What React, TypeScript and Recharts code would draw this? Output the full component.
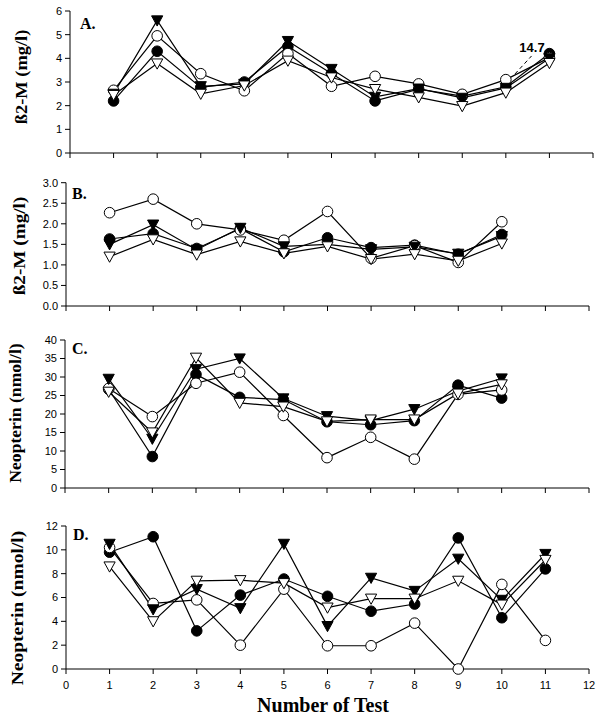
import React from 'react'
import { LineChart, Line, XAxis, YAxis, ReferenceLine, ReferenceDot } from 'recharts'

// test numbers and axis ticks
const TESTS = [1, 2, 3, 4, 5, 6, 7, 8, 9, 10, 11]
const X_TICKS = [0, 1, 2, 3, 4, 5, 6, 7, 8, 9, 10, 11, 12]

// A. ß2-M (mg/l)
const A_TICKS = [0, 1, 2, 3, 4, 5, 6]
const A_FILLED_CIRCLE = [2.2, 4.3, 2.77, 3.0, 4.5, 3.36, 2.2, 2.7, 2.4, 2.8, 4.2]
const A_OPEN_CIRCLE = [2.65, 4.95, 3.35, 2.63, 4.2, 2.82, 3.24, 2.92, 2.48, 3.1, 4.03]
const A_FILLED_TRI = [2.5, 5.6, 2.82, 2.92, 4.73, 3.55, 2.37, 2.72, 2.33, 2.75, 4.0]
const A_OPEN_TRI = [2.45, 3.78, 2.5, 2.85, 3.9, 3.19, 2.7, 2.35, 1.98, 2.55, 3.8]

// B. ß2-M (mg/l)
const B_TICKS = [0, 0.5, 1, 1.5, 2, 2.5, 3]
const B_FILLED_CIRCLE = [1.63, 1.76, 1.4, 1.88, 1.32, 1.66, 1.42, 1.48, 1.26, 1.74]
const B_OPEN_CIRCLE = [2.27, 2.6, 2.0, 1.85, 1.6, 2.3, 1.16, 1.47, 1.06, 2.05]
const B_FILLED_TRI = [1.5, 1.98, 1.37, 1.9, 1.45, 1.5, 1.38, 1.44, 1.27, 1.7]
const B_OPEN_TRI = [1.2, 1.62, 1.25, 1.57, 1.28, 1.45, 1.14, 1.26, 1.1, 1.52]

// C. Neopterin (nmol/l)
const C_TICKS = [0, 5, 10, 15, 20, 25, 30, 35, 40]
const C_FILLED_CIRCLE = [26.7, 8.5, 30.7, 24.5, 23.9, 17.9, 17.1, 18.2, 27.8, 24.3]
const C_OPEN_CIRCLE = [26.9, 19.3, 28.3, 31.3, 19.6, 8.2, 13.7, 7.8, 25.3, 26.5]
const C_FILLED_TRI = [29.5, 13.3, 32.1, 35.0, 24.2, 19.4, 18.2, 21.3, 26.2, 29.6]
const C_OPEN_TRI = [26.0, 15.0, 35.2, 23.0, 22.0, 18.0, 18.5, 18.5, 25.5, 28.0]

// D. Neopterin (nmol/l)
const D_TICKS = [0, 2, 4, 6, 8, 10, 12]
const D_FILLED_CIRCLE = [9.8, 11.1, 3.2, 6.2, 7.55, 6.1, 4.85, 5.45, 11.0, 4.3, 8.4]
const D_OPEN_CIRCLE = [10.2, 5.5, 5.8, 2.0, 6.7, 1.95, 1.95, 3.85, 0, 7.1, 2.4]
const D_FILLED_TRI = [10.5, 5.0, 6.7, 5.1, 10.5, 3.6, 7.65, 6.55, 9.25, 5.8, 9.65]
const D_OPEN_TRI = [8.6, 4.0, 7.4, 7.45, 7.2, 5.15, 5.9, 5.9, 7.4, 5.4, 9.15]

type Row = { x: number; fc: number; oc: number; ft: number; ot: number }

function buildRows(fc: number[], oc: number[], ft: number[], ot: number[]): Row[] {
  return fc.map((v, i) => ({ x: TESTS[i], fc: v, oc: oc[i], ft: ft[i], ot: ot[i] }))
}

const SERIF = '"Liberation Serif", "Times New Roman", serif'
const SANS = '"Liberation Sans", Arial, sans-serif'

function circleDot(fill: string) {
  return (p: any) => {
    if (p.cx == null || p.cy == null) return <g key={p.index} />
    return <circle key={p.index} cx={p.cx} cy={p.cy} r={5.3} fill={fill} stroke="#000" strokeWidth={1} />
  }
}

function triDot(fill: string) {
  return (p: any) => {
    if (p.cx == null || p.cy == null) return <g key={p.index} />
    const { cx, cy } = p
    const pts = `${cx - 5.6},${cy - 4.6} ${cx + 5.6},${cy - 4.6} ${cx},${cy + 5.6}`
    return <polygon key={p.index} points={pts} fill={fill} stroke="#000" strokeWidth={1} />
  }
}

const SERIES = [
  { key: 'fc', dot: circleDot('#000') },
  { key: 'oc', dot: circleDot('#fff') },
  { key: 'ft', dot: triDot('#000') },
  { key: 'ot', dot: triDot('#fff') },
]

const NoTick = () => <g />

interface PanelProps {
  top: number
  height: number
  left: number
  right: number
  plotTop: number
  xAxisHeight: number
  rows: Row[]
  yTicks: number[]
  yFormat?: (v: number) => string
  showXLabels?: boolean
  children?: React.ReactNode
}

function Panel({ top, height, left, right, plotTop, xAxisHeight, rows, yTicks, yFormat, showXLabels, children }: PanelProps) {
  return (
    <div style={{ position: 'absolute', top, left: 0 }}>
      <LineChart width={608} height={height} data={rows} margin={{ top: plotTop, right: 608 - right, bottom: 0, left: 0 }}>
        <XAxis
          type="number"
          dataKey="x"
          domain={[0, 12]}
          ticks={X_TICKS}
          interval={0}
          height={xAxisHeight}
          axisLine={{ stroke: '#000' }}
          tickLine={{ stroke: '#000' }}
          tickSize={5}
          tickMargin={7}
          tick={showXLabels ? { fontSize: 11, fill: '#000', fontFamily: SANS } : <NoTick />}
        />
        <YAxis
          type="number"
          domain={[yTicks[0], yTicks[yTicks.length - 1]]}
          ticks={yTicks}
          interval={0}
          width={left}
          axisLine={{ stroke: '#000' }}
          tickLine={{ stroke: '#000' }}
          tickSize={5}
          tickMargin={3}
          tickFormatter={yFormat}
          tick={{ fontSize: 11, fill: '#000', fontFamily: SANS }}
        />
        {SERIES.map((s) => (
          <Line
            key={s.key}
            type="linear"
            dataKey={s.key}
            stroke="#000"
            strokeWidth={1.2}
            dot={s.dot}
            activeDot={false}
            isAnimationActive={false}
          />
        ))}
        {children}
      </LineChart>
    </div>
  )
}

// rotated axis title; stretch lengthens the text along the axis
function VLabel({ text, x, y, stretch }: { text: string; x: number; y: number; stretch: number }) {
  return (
    <div
      style={{
        position: 'absolute',
        left: x,
        top: y,
        transform: `translate(-50%, -50%) rotate(-90deg) scaleX(${stretch})`,
        whiteSpace: 'nowrap',
        fontFamily: SERIF,
        fontWeight: 'bold',
        fontSize: 16,
        lineHeight: 1,
      }}
    >
      {text}
    </div>
  )
}

function PanelLetter({ text, x, y }: { text: string; x: number; y: number }) {
  return (
    <div style={{ position: 'absolute', left: x, top: y, fontFamily: SERIF, fontWeight: 'bold', fontSize: 16, lineHeight: 1 }}>
      {text}
    </div>
  )
}

export default function App() {
  const rowsA = buildRows(A_FILLED_CIRCLE, A_OPEN_CIRCLE, A_FILLED_TRI, A_OPEN_TRI)
  const rowsB = buildRows(B_FILLED_CIRCLE, B_OPEN_CIRCLE, B_FILLED_TRI, B_OPEN_TRI)
  const rowsC = buildRows(C_FILLED_CIRCLE, C_OPEN_CIRCLE, C_FILLED_TRI, C_OPEN_TRI)
  const rowsD = buildRows(D_FILLED_CIRCLE, D_OPEN_CIRCLE, D_FILLED_TRI, D_OPEN_TRI)

  return (
    <div style={{ position: 'absolute', top: 0, left: 0, width: 608, height: 720, background: '#fff', overflow: 'hidden' }}>
      <Panel top={0} height={180} left={70} right={593} plotTop={11} xAxisHeight={27} rows={rowsA} yTicks={A_TICKS}>
        <ReferenceLine
          segment={[{ x: 10.21, y: 3.34 }, { x: 10.59, y: 4.1 }]}
          stroke="#000"
          strokeWidth={1}
          strokeDasharray="4 3"
        />
        <ReferenceDot
          x={10.6}
          y={4.45}
          r={0}
          stroke="none"
          label={{ value: '14.7', position: 'center', fontSize: 13, fontWeight: 'bold', fill: '#000', fontFamily: SANS }}
        />
      </Panel>
      <Panel top={170} height={161} left={66} right={589} plotTop={12.7} xAxisHeight={25} rows={rowsB} yTicks={B_TICKS} yFormat={(v) => v.toFixed(1)} />
      <Panel top={330} height={183} left={65} right={589} plotTop={10} xAxisHeight={25} rows={rowsC} yTicks={C_TICKS} />
      <Panel top={515} height={205} left={66} right={589} plotTop={11} xAxisHeight={51} rows={rowsD} yTicks={D_TICKS} showXLabels />

      <VLabel text="ß2-M (mg/l)" x={22} y={77} stretch={1.15} />
      <VLabel text="ß2-M (mg/l)" x={20} y={246} stretch={1.2} />
      <VLabel text="Neopterin (nmol/l)" x={16} y={413} stretch={1.1} />
      <VLabel text="Neopterin (nmol/l)" x={18} y={608} stretch={1.22} />

      <PanelLetter text="A." x={80} y={16} />
      <PanelLetter text="B." x={72} y={186} />
      <PanelLetter text="C." x={72} y={341} />
      <PanelLetter text="D." x={73} y={527} />

      <div
        style={{
          position: 'absolute',
          left: 323,
          top: 705,
          transform: 'translate(-50%, -50%)',
          fontFamily: SERIF,
          fontWeight: 'bold',
          fontSize: 20,
          whiteSpace: 'nowrap',
          lineHeight: 1,
        }}
      >
        Number of Test
      </div>
    </div>
  )
}
